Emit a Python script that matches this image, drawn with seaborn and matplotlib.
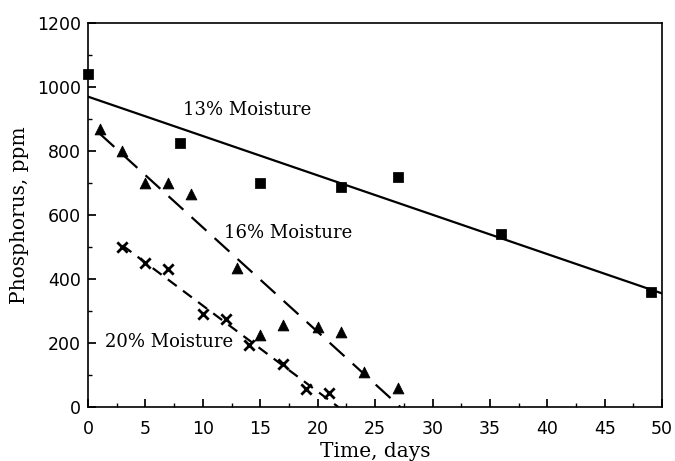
import matplotlib
matplotlib.use("Agg")
import matplotlib.pyplot as plt
import seaborn as sns
import pandas as pd
from matplotlib.ticker import MultipleLocator

# Data
days_13 = [0, 8, 15, 22, 27, 36, 49]
p_13 = [1040, 825, 700, 688, 720, 540, 358]
fit_x_13 = [0, 50]
fit_y_13 = [970, 355]

days_16 = [1, 3, 5, 7, 9, 13, 15, 17, 20, 22, 24, 27]
p_16 = [870, 800, 700, 700, 665, 435, 225, 255, 250, 235, 110, 60]
fit_x_16 = [1, 27.2]
fit_y_16 = [855, 0]

days_20 = [3, 5, 7, 10, 12, 14, 17, 19, 21]
p_20 = [500, 450, 430, 290, 275, 195, 135, 55, 45]
fit_x_20 = [3, 21.8]
fit_y_20 = [505, 0]

labels = ["13% Moisture", "16% Moisture", "20% Moisture"]
x_ticks = list(range(0, 51, 5))
y_ticks = list(range(0, 1201, 200))

sns.set_theme(style="ticks")
plt.rcParams['font.family'] = ['DejaVu Serif']
plt.rcParams['text.color'] = 'black'
plt.rcParams['axes.labelcolor'] = 'black'

fig = plt.figure(figsize=(6.75, 4.61), dpi=100)
ax = fig.add_axes([0.1304, 0.117, 0.8506, 0.833])

df13 = pd.DataFrame({"x": days_13, "y": p_13})
df16 = pd.DataFrame({"x": days_16, "y": p_16})
df20 = pd.DataFrame({"x": days_20, "y": p_20})

sns.lineplot(x=fit_x_13, y=fit_y_13, ax=ax, color="black", lw=1.6)
sns.lineplot(x=fit_x_16, y=fit_y_16, ax=ax, color="black", lw=1.6)
ax.lines[-1].set_dashes([9, 5])
sns.lineplot(x=fit_x_20, y=fit_y_20, ax=ax, color="black", lw=1.6)
ax.lines[-1].set_dashes([5, 3.5])

sns.scatterplot(data=df13, x="x", y="y", ax=ax, marker="s", s=45, color="black",
                edgecolor="black", clip_on=False, zorder=5)
sns.scatterplot(data=df16, x="x", y="y", ax=ax, marker="^", s=60, color="black",
                edgecolor="black", clip_on=False, zorder=5)
sns.scatterplot(data=df20, x="x", y="y", ax=ax, marker="x", s=55, color="black",
                linewidth=2, clip_on=False, zorder=5)

ax.text(8.3, 928, labels[0], fontsize=13, va="center", ha="left", color="black")
ax.text(11.8, 544, labels[1], fontsize=13, va="center", ha="left", color="black")
ax.text(1.5, 203, labels[2], fontsize=13, va="center", ha="left", color="black")

ax.set_xlim(0, 50)
ax.set_ylim(0, 1200)
ax.set_xticks(x_ticks)
ax.set_yticks(y_ticks)
ax.xaxis.set_minor_locator(MultipleLocator(2.5))
ax.yaxis.set_minor_locator(MultipleLocator(100))
ax.tick_params(direction="in", which="both", top=False, right=False, colors="black")
ax.tick_params(which="major", length=6)
ax.tick_params(which="minor", length=3)
ax.tick_params(axis="x", pad=9)
ax.tick_params(axis="y", pad=5)
for lab in ax.get_xticklabels() + ax.get_yticklabels():
    lab.set_fontfamily("DejaVu Sans")
    lab.set_fontsize(12.5)
for s in ax.spines.values():
    s.set_visible(True)
    s.set_color("black")
    s.set_linewidth(1.2)

ax.set_xlabel("Time, days", fontsize=14.5, labelpad=3, color="black")
ax.set_ylabel("Phosphorus, ppm", fontsize=14.5, labelpad=6, color="black")

fig.savefig("out.png", dpi=100)
